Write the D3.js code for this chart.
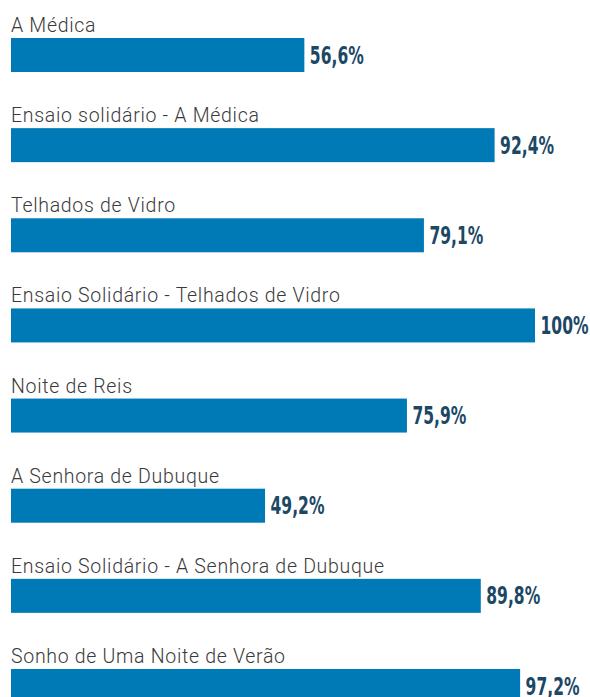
<!DOCTYPE html>
<html>
<head>
<meta charset="utf-8">
<script src="https://cdn.jsdelivr.net/npm/d3@7"></script>
<style>
  body { margin: 0; background: #fff; }
  svg { display: block; }
</style>
</head>
<body>
<svg id="chart" width="590" height="697"></svg>
<script>
// data
const shows = [
  "A Médica",
  "Ensaio solidário - A Médica",
  "Telhados de Vidro",
  "Ensaio Solidário - Telhados de Vidro",
  "Noite de Reis",
  "A Senhora de Dubuque",
  "Ensaio Solidário - A Senhora de Dubuque",
  "Sonho de Uma Noite de Verão"
];
const occupancy = [56.6, 92.4, 79.1, 100, 75.9, 49.2, 89.8, 97.2];

const width = 590, height = 697;
const barColor = "#007ab6";
const valueColor = "#1c4866";

const svg = d3.select("#chart");

// bars in the original don't start at a true zero
const x = d3.scaleLinear().domain([1.4, 100]).range([11, 535]);

// 34px bars on a ~90px step
const y = d3.scaleBand()
  .domain(shows)
  .range([38, 38 + 7 * 90.14 + 34])
  .paddingInner(1 - 34 / 90.14)
  .paddingOuter(0);

const fmt = v => (v === 100 ? "100" : d3.format(".1f")(v).replace(".", ",")) + "%";

const rows = svg.selectAll("g.row")
  .data(shows.map((s, i) => ({name: s, value: occupancy[i]})))
  .enter()
  .append("g")
  .attr("class", "row");

rows.append("text")
  .attr("x", x.range()[0])
  .attr("y", d => y(d.name) - 6)
  .attr("font-family", "Roboto, sans-serif")
  .attr("font-weight", 300)
  .attr("font-size", 19.5)
  .attr("letter-spacing", 0.7)
  .attr("fill", "#3a3a3a")
  .text(d => d.name);

rows.append("rect")
  .attr("x", x.range()[0])
  .attr("y", d => y(d.name))
  .attr("width", d => x(d.value) - x.range()[0])
  .attr("height", y.bandwidth())
  .attr("fill", barColor);

// condensed bold numbers: squeeze horizontally
rows.append("text")
  .attr("transform", d => "translate(" + (x(d.value) + 5.5) + "," + (y(d.name) + y.bandwidth() / 2 + 8.6) + ") scale(0.72,1)")
  .attr("font-family", "DejaVu Sans Condensed, DejaVu Sans, sans-serif")
  .attr("font-stretch", "condensed")
  .attr("font-weight", "bold")
  .attr("font-size", 24)
  .attr("fill", valueColor)
  .text(d => fmt(d.value));
</script>
</body>
</html>
